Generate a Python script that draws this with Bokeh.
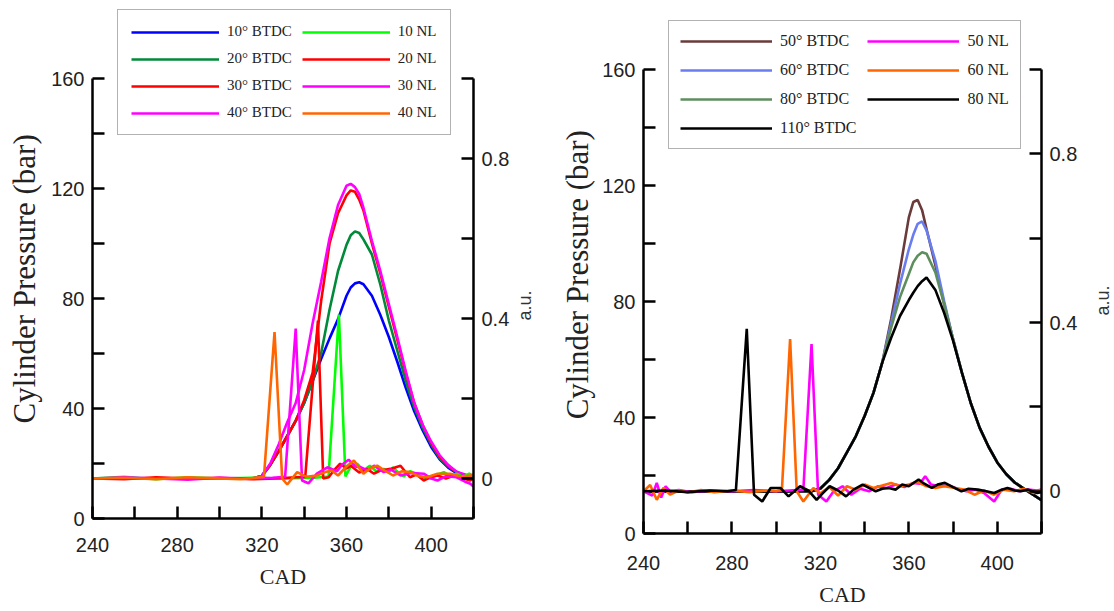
import math
from bokeh.plotting import figure
from bokeh.models import (Range1d, LinearAxis, FixedTicker, Legend, LegendItem, Label)
from bokeh.layouts import row
from bokeh.embed import file_html
from bokeh.resources import INLINE

# ---------------- data : left panel ----------------
cad_l = [240, 260, 280, 300, 316, 320, 324, 328, 332, 336, 340, 344, 348, 352, 356, 360,
         362, 364, 366, 368, 372, 376, 380, 384, 388, 392, 396, 400, 404, 408, 412, 416, 420]
p_10 = [14.5, 14.5, 14.5, 14.5, 14.6, 15.5, 19.5, 24.5, 30, 35.5, 42, 50, 58, 65.5, 72.5, 81,
        84, 85.5, 85.9, 85.2, 81, 74, 66, 57, 47.5, 39, 32, 26, 21.5, 18.5, 16.5, 15, 14.5]
p_20 = [14.5, 14.5, 14.5, 14.5, 14.6, 15.5, 19.5, 24.5, 30, 35.5, 42, 50, 60, 76, 90, 99.5,
        103, 104.4, 103.8, 101.5, 96, 85, 72, 61, 50, 40.5, 33, 27, 22, 19, 16.8, 15.3, 14.8]
p_30 = [14.5, 14.5, 14.5, 14.5, 14.6, 15.5, 19.5, 24.5, 30, 35.5, 43, 53, 79, 100, 111, 117.5,
        119.3, 118.8, 116, 112, 100, 89, 77, 65, 53, 42, 34, 27.5, 22.5, 19, 17, 15.5, 15]
p_40 = [14.5, 14.5, 14.5, 14.5, 14.6, 15.5, 20, 27, 35, 42, 54, 71, 86, 102, 114, 121,
        121.7, 120.5, 118, 113, 101, 90, 78, 66, 53.5, 42, 34, 28, 23, 19.5, 17, 16, 15]

nl10_x = [240, 255, 270, 285, 300, 315, 330, 345, 351.5, 356.4, 359.5, 362, 365, 368, 371, 374,
          377.5, 380, 382, 385, 387, 390, 393, 396, 399.5, 403, 406, 409, 412, 415, 418, 420]
nl10_y = [0.0, 0.004, -0.002, 0.003, 0.0, 0.002, 0.0, 0.002, 0.005, 0.41, 0.005, 0.03, 0.037,
          0.02, 0.032, 0.018, 0.024, 0.015, 0.028, 0.012, 0.005, 0.018, 0.012, 0.002, 0.0, 0.01,
          0.016, 0.006, 0.012, 0.004, 0.012, 0.006]
nl20_x = [240, 255, 270, 285, 300, 315, 330, 336, 340.5, 346.5, 349, 351.6, 354, 357, 360, 362,
          366, 369.7, 373, 376, 380.8, 385.5, 390, 393, 396.5, 400, 403, 407, 410.7, 414, 418.5, 420]
nl20_y = [0.0, -0.002, 0.003, 0.0, 0.002, -0.002, 0.001, 0.003, 0.004, 0.395, 0.0, 0.003, 0.02,
          0.037, 0.025, 0.032, 0.015, 0.024, 0.012, 0.02, 0.024, 0.032, 0.003, 0.01, -0.005,
          0.004, 0.0075, 0.0, 0.0075, 0.002, -0.005, 0.0]
nl30_x = [240, 255, 270, 285, 300, 315, 325, 331, 336, 339, 342, 346, 351, 355.5, 358, 361, 364,
          366.6, 370, 373, 377.6, 381, 385.5, 390, 396.5, 400, 403, 407, 412, 416, 418.5, 420]
nl30_y = [0.0, 0.003, 0.0, -0.003, 0.002, 0.0, 0.002, 0.004, 0.375, -0.005, -0.012, 0.012,
          0.028, 0.018, 0.035, 0.047, 0.03, 0.028, 0.02, 0.032, 0.016, 0.022, 0.0075, 0.014,
          0.012, 0.0, -0.005, 0.006, 0.003, -0.008, -0.013, -0.02]
nl40_x = [240, 255, 270, 285, 300, 310, 317, 321, 326, 329.6, 332, 336.7, 341, 346, 350, 353,
          356, 360, 363.5, 368, 371, 374.5, 378, 382, 386, 390, 394, 398, 403, 409, 414, 418.5, 420]
nl40_y = [0.0, 0.002, -0.002, 0.003, 0.0, -0.002, 0.002, 0.004, 0.366, 0.0, -0.015, 0.016,
          0.004, 0.0075, 0.016, 0.02, 0.0075, 0.03, 0.045, 0.012, 0.025, 0.032, 0.02, 0.0075,
          0.018, 0.016, 0.006, 0.003, 0.012, 0.012, 0.005, 0.0075, 0.01]

# ---------------- data : right panel ----------------
cad_r = cad_l
p_50 = [14.5, 14.5, 14.5, 14.5, 14.6, 15.5, 18.5, 22.5, 28, 33.5, 40.5, 48.5, 59, 74, 91, 109,
        114.3, 115, 111.5, 105, 92.5, 79, 67, 55.5, 45, 36.5, 30, 24.5, 20.5, 17.5, 15.5, 13.5, 11.5]
p_60 = [14.5, 14.5, 14.5, 14.5, 14.6, 15.5, 18.5, 22.5, 28, 33.5, 40.5, 48.5, 59, 72.5, 86, 98,
        103, 106.8, 107.6, 104.5, 94, 80, 67, 55.5, 45, 36.5, 30, 24.5, 20.5, 17.5, 15.5, 13.5, 11.5]
p_80 = [14.5, 14.5, 14.5, 14.5, 14.6, 15.5, 18.5, 22.5, 28, 33.5, 40.5, 48.5, 59, 71, 81.5, 89.5,
        93.5, 95.8, 97, 96.5, 90, 79, 67, 55.5, 45, 36.5, 30, 24.5, 20.5, 17.5, 15.5, 13.5, 11.5]
p_110 = [14.5, 14.5, 14.5, 14.5, 14.6, 15.5, 18.5, 22.5, 28, 33.5, 40.5, 48.5, 59, 67.5, 75, 80.5,
         83, 85.3, 87, 88.3, 84, 76, 66.5, 55.5, 45, 36.5, 30, 24.5, 20.5, 17.5, 15.5, 13.5, 11.5]

nl50_x = [240, 244, 246, 248, 250, 252, 256, 262, 270, 280, 290, 300, 306, 312.3, 316, 319,
          322.7, 326, 330, 334, 338, 342, 346, 350, 354, 358, 362, 365, 367.4, 370, 374, 378,
          382, 386, 390, 394, 398.6, 402, 406, 410, 414, 418, 420]
nl50_y = [0.0, -0.01, 0.02, -0.015, 0.012, 0.0, 0.003, -0.002, 0.002, 0.0, 0.003, 0.0, 0.002,
          0.004, 0.349, -0.008, -0.024, 0.0, 0.012, -0.008, 0.006, 0.0, 0.012, 0.008, 0.016,
          0.01, 0.02, 0.018, 0.036, 0.016, 0.012, 0.014, 0.006, 0.0, 0.004, -0.004, -0.024,
          0.004, 0.006, 0.0, 0.004, 0.002, 0.004]
nl60_x = [240, 243, 246, 249, 252, 256, 260, 266, 272, 280, 288, 295, 300, 302.6, 306.3, 309.3,
          312.3, 316.8, 320, 324, 328, 332, 336, 340, 344, 348, 352, 356, 360, 364, 368, 372,
          376, 380.8, 385, 389.7, 394, 398.6, 403, 407.5, 412, 416.5, 420]
nl60_y = [0.0, 0.015, -0.02, 0.008, -0.008, 0.002, -0.003, 0.003, -0.002, 0.002, -0.002, 0.002,
          0.0, 0.004, 0.361, 0.0, -0.024, 0.008, -0.005, 0.01, -0.01, 0.012, 0.004, 0.016,
          0.008, 0.014, 0.02, 0.012, 0.016, 0.022, 0.012, 0.008, 0.012, 0.008, 0.004, -0.008,
          0.002, -0.008, 0.004, 0.0, 0.006, -0.004, 0.004]
nl80_x = [240, 250, 260, 270, 278, 281.8, 286.7, 290, 293.7, 297.5, 301.9, 305.6, 310.8, 314.5,
          318.3, 321, 324.2, 328, 331.6, 335, 339.1, 342, 345, 348, 351, 354, 357, 360, 364.4,
          367, 370.4, 373, 376.3, 380, 383.8, 387, 391.2, 395, 398.6, 402, 404.6, 408, 410.5,
          414, 418, 420]
nl80_y = [0.0, 0.002, -0.002, 0.002, 0.0, 0.003, 0.385, -0.008, -0.024, 0.008, 0.008, -0.012,
          0.012, 0.002, -0.02, -0.005, 0.012, 0.002, -0.012, 0.004, 0.016, 0.008, 0.0, 0.006,
          0.008, 0.004, 0.016, 0.012, 0.028, 0.018, 0.008, 0.016, 0.02, 0.01, 0.0, 0.006,
          0.004, 0.0, -0.004, 0.004, 0.008, 0.002, 0.0, 0.004, -0.004, -0.002]

x_ticks = [240, 260, 280, 300, 320, 340, 360, 380, 400, 420]
x_labels = {240: "240", 260: "", 280: "280", 300: "", 320: "320", 340: "", 360: "360",
            380: "", 400: "400", 420: ""}
y_ticks = [0, 20, 40, 60, 80, 100, 120, 140, 160]
y_labels = {0: "0", 20: "", 40: "40", 60: "", 80: "80", 100: "", 120: "120", 140: "", 160: "160"}
au_ticks = [0, 0.2, 0.4, 0.6, 0.8, 1.0]
au_labels = {0: "0", 0.2: "", 0.4: "0.4", 0.6: "", 0.8: "0.8", 1.0: ""}

Y_TITLE = "Cylinder Pressure (bar)"
AU_TITLE = "a.u."
X_TITLE = "CAD"

SANS = "Liberation Sans"
SERIF = "Liberation Serif"
NB = "\u00a0"  # non-breaking space used only to nudge a centred axis title


def style_axis(ax, ticks, labels, label_standoff):
    ax.ticker = FixedTicker(ticks=ticks)
    ax.major_label_overrides = labels
    ax.axis_line_width = 2.5
    ax.axis_line_color = "black"
    ax.major_tick_line_width = 2.5
    ax.major_tick_line_color = "black"
    ax.major_tick_in = 12
    ax.major_tick_out = 0
    ax.minor_tick_line_color = None
    ax.major_label_text_font = SANS
    ax.major_label_text_font_size = "20px"
    ax.major_label_text_color = "#222222"
    ax.major_label_standoff = label_standoff
    ax.axis_label_text_font_style = "normal"


def make_panel(width, height, bl, br, bb, y_top, au_top, xl_off, xa_off,
               y_pad, y_standoff, au_pos):
    p = figure(width=width, height=height, output_backend="svg", toolbar_location=None,
               x_range=Range1d(240, 420), y_range=Range1d(0, y_top),
               min_border_left=bl, min_border_right=br, min_border_top=0, min_border_bottom=bb)
    p.frame_align = False
    p.extra_y_ranges = {"au": Range1d(-0.1, au_top)}
    p.outline_line_color = None
    p.xgrid.visible = False
    p.ygrid.visible = False
    p.background_fill_color = "white"
    p.border_fill_color = "white"
    style_axis(p.xaxis[0], x_ticks, x_labels, xl_off)
    p.xaxis[0].axis_label = X_TITLE
    p.xaxis[0].axis_label_text_font = SERIF
    p.xaxis[0].axis_label_text_font_size = "22px"
    p.xaxis[0].axis_label_text_color = "#222222"
    p.xaxis[0].axis_label_standoff = xa_off
    style_axis(p.yaxis[0], y_ticks, y_labels, 8)
    p.yaxis[0].bounds = (0, 160)
    p.yaxis[0].axis_label = Y_TITLE + NB * y_pad
    p.yaxis[0].axis_label_text_font = SERIF
    p.yaxis[0].axis_label_text_font_size = "31px"
    p.yaxis[0].axis_label_text_color = "#222222"
    p.yaxis[0].axis_label_standoff = y_standoff
    ra = LinearAxis(y_range_name="au")
    style_axis(ra, au_ticks, au_labels, 8)
    ra.bounds = (-0.1, 1.0)
    p.add_layout(ra, "right")
    # title of the a.u. axis, a text annotation in the right-hand side panel
    lab = Label(x=au_pos[0], y=au_pos[1], x_units="screen", y_units="screen",
                text=AU_TITLE, angle=math.pi / 2, text_align="center",
                text_baseline="middle", text_font=SANS, text_font_size="18px",
                text_color="#333333")
    p.add_layout(lab, "right")
    return p


def legend_for(p, items, loc, size, gw, spacing, pad):
    lg = Legend(items=items, location=loc, nrows=4, orientation="vertical")
    lg.label_text_font = SERIF
    lg.label_text_font_size = size
    lg.label_text_color = "#222222"
    lg.glyph_width = gw
    lg.glyph_height = 16
    lg.label_height = 16
    lg.spacing = spacing
    lg.padding = pad
    lg.margin = 0
    lg.label_standoff = 8
    lg.border_line_color = "#666666"
    lg.border_line_width = 1.5
    lg.background_fill_color = "white"
    lg.background_fill_alpha = 1.0
    p.add_layout(lg, "center")


# ---------------- left panel ----------------
# frame: x 92..473 px, y 0..518 px; 160 bar sits at 78 px
pl = make_panel(557, 611, 92, 84, 93, 518 / 2.75, -0.1 + 518 / 400, 19, 9, 5, 6, (12, 213))
LW = 2.6
r_p10 = pl.line(cad_l, p_10, line_color="#0000FF", line_width=LW)
r_p20 = pl.line(cad_l, p_20, line_color="#008A3A", line_width=LW)
r_p30 = pl.line(cad_l, p_30, line_color="#FF0000", line_width=LW)
r_p40 = pl.line(cad_l, p_40, line_color="#FF00FF", line_width=LW)
r_n10 = pl.line(nl10_x, nl10_y, y_range_name="au", line_color="#00FF00", line_width=LW)
r_n20 = pl.line(nl20_x, nl20_y, y_range_name="au", line_color="#FF0000", line_width=LW)
r_n30 = pl.line(nl30_x, nl30_y, y_range_name="au", line_color="#FF00FF", line_width=LW)
r_n40 = pl.line(nl40_x, nl40_y, y_range_name="au", line_color="#FF6600", line_width=LW)
legend_for(pl, [
    LegendItem(label="10° BTDC", renderers=[r_p10]),
    LegendItem(label="20° BTDC", renderers=[r_p20]),
    LegendItem(label="30° BTDC", renderers=[r_p30]),
    LegendItem(label="40° BTDC", renderers=[r_p40]),
    LegendItem(label="10 NL", renderers=[r_n10]),
    LegendItem(label="20 NL", renderers=[r_n20]),
    LegendItem(label="30 NL", renderers=[r_n30]),
    LegendItem(label="40 NL", renderers=[r_n40]),
], (25, 383), "15px", 88, 10, 13)

# ---------------- right panel ----------------
# frame: x 638..1041 px, y 0..533 px; 160 bar sits at 69 px
pr = make_panel(557, 611, 81, 73, 78, 533 / 2.9, -0.1 + 533 / 421.8, 22, 9, 2, 4, (22, 233))
r_p50 = pr.line(cad_r, p_50, line_color="#6B3A3A", line_width=LW)
r_p60 = pr.line(cad_r, p_60, line_color="#6A7DF0", line_width=LW)
r_p80 = pr.line(cad_r, p_80, line_color="#5E8E5E", line_width=LW)
r_p110 = pr.line(cad_r, p_110, line_color="#000000", line_width=LW)
r_n50 = pr.line(nl50_x, nl50_y, y_range_name="au", line_color="#FF00FF", line_width=LW)
r_n60 = pr.line(nl60_x, nl60_y, y_range_name="au", line_color="#FF6600", line_width=LW)
r_n80 = pr.line(nl80_x, nl80_y, y_range_name="au", line_color="#000000", line_width=LW)
legend_for(pr, [
    LegendItem(label="50° BTDC", renderers=[r_p50]),
    LegendItem(label="60° BTDC", renderers=[r_p60]),
    LegendItem(label="80° BTDC", renderers=[r_p80]),
    LegendItem(label="110° BTDC", renderers=[r_p110]),
    LegendItem(label="50 NL", renderers=[r_n50]),
    LegendItem(label="60 NL", renderers=[r_n60]),
    LegendItem(label="80 NL", renderers=[r_n80]),
], (25, 384), "16px", 92, 11, 11)

layout = row(pl, pr)
open("out.html", "w").write(file_html(layout, INLINE))
